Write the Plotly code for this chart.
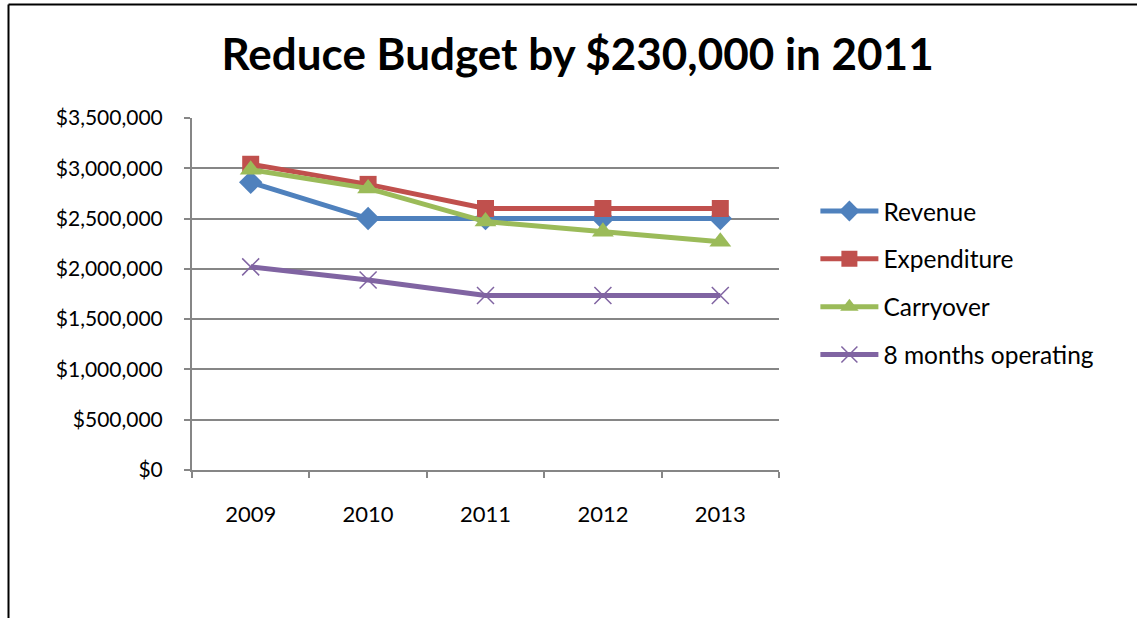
import plotly.graph_objects as go

years = ["2009", "2010", "2011", "2012", "2013"]
revenue = [2860000, 2500000, 2500000, 2500000, 2500000]
expenditure = [3040000, 2840000, 2600000, 2600000, 2600000]
carryover = [2985000, 2800000, 2470000, 2370000, 2270000]
operating_8m = [2020000, 1890000, 1735000, 1735000, 1735000]

y_ticks = [0, 500000, 1000000, 1500000, 2000000, 2500000, 3000000, 3500000]
y_tick_labels = ["$0", "$500,000", "$1,000,000", "$1,500,000", "$2,000,000",
                 "$2,500,000", "$3,000,000", "$3,500,000"]

series = [
    ("Revenue", revenue, "#4F81BD", "diamond", 18, 0),
    ("Expenditure", expenditure, "#C0504D", "square", 17, 0),
    ("Carryover", carryover, "#9BBB59", "triangle-up", 19, 0),
    ("8 months operating", operating_8m, "#8064A2", "x-thin-open", 17, 1.5),
]

fig = go.Figure()
for name, vals, color, sym, size, lw in series:
    fig.add_trace(go.Scatter(
        x=years, y=vals, name=name, mode="lines+markers",
        legendgroup=name,
        line=dict(color=color, width=5),
        marker=dict(symbol=sym, size=size, color=color,
                    line=dict(color=color, width=lw)),
    ))

L, R, T, B = 192, 358, 118, 148
W, H = 1137, 618
pw, ph = W - L - R, H - T - B

def px_x(px):
    return (px - L) / pw

def px_y(py):
    return (H - B - py) / ph

fig.update_layout(
    width=W, height=H,
    margin=dict(l=L, r=R, t=T, b=B),
    paper_bgcolor="white", plot_bgcolor="white",
    font=dict(family="Lato, Arial, sans-serif", color="black", size=20),
    title=dict(text="<b>Reduce Budget by $230,000 in 2011</b>",
               x=0.508, xanchor="center", y=1 - 55 / H, yanchor="middle",
               font=dict(size=44, color="black")),
    showlegend=True,
    legend=dict(x=1.062, xanchor="left", y=0.531, yanchor="middle",
                font=dict(size=24.5), tracegroupgap=13, itemwidth=58,
                bgcolor="rgba(0,0,0,0)"),
    xaxis=dict(
        type="category", range=[-0.5, 4.5], tickson="boundaries",
        showline=True, linecolor="#868686", linewidth=2,
        ticks="outside", ticklen=6, tickcolor="#868686", tickwidth=1.5,
        showgrid=False, tickfont=dict(size=22), ticklabelstandoff=24,
    ),
    yaxis=dict(
        range=[0, 3500000], tickvals=y_ticks, ticktext=y_tick_labels,
        showline=True, linecolor="#868686", linewidth=2,
        ticks="outside", ticklen=6, tickcolor="#868686", tickwidth=1.5,
        showgrid=True, gridcolor="#868686", gridwidth=1.5,
        zeroline=False, tickfont=dict(size=21), ticklabelstandoff=17,
    ),
    shapes=[
        dict(type="line", xref="paper", yref="paper",
             x0=px_x(8.5), x1=px_x(1140), y0=px_y(4.5), y1=px_y(4.5),
             line=dict(color="black", width=2)),
        dict(type="line", xref="paper", yref="paper",
             x0=px_x(8.5), x1=px_x(8.5), y0=px_y(4.5), y1=px_y(625),
             line=dict(color="black", width=2)),
    ],
)

fig.write_html("out.html", config={"displayModeBar": False})
